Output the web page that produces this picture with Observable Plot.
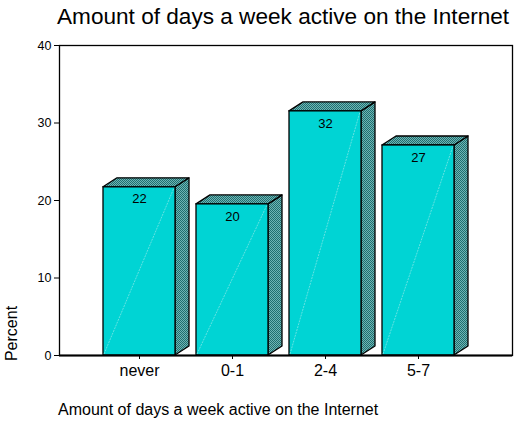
<!DOCTYPE html>
<html>
<head>
<meta charset="utf-8">
<script src="https://cdn.jsdelivr.net/npm/d3@7"></script>
<script src="https://cdn.jsdelivr.net/npm/@observablehq/plot@0.6"></script>
<style>
  body { margin: 0; background: #fff; font-family: Arial, "Liberation Sans", sans-serif; }
  #wrap { position: relative; width: 525px; height: 426px; }
  #title { position: absolute; left: 57px; top: 4px; font-size: 22.6px; color: #000; white-space: nowrap; }
  #caption { position: absolute; left: 58px; top: 401px; font-size: 16px; color: #000; white-space: nowrap; }
  #chart { position: absolute; left: 0; top: 32px; }
  #chart svg { font-family: Arial, "Liberation Sans", sans-serif; }
  #chart [aria-label^="x-axis"] text { font-size: 16px; }
  #chart [aria-label^="y-axis"] text { font-size: 12.5px; }
</style>
</head>
<body>
<div id="wrap">
  <div id="title"></div>
  <div id="chart"></div>
  <div id="caption"></div>
</div>
<script>
const titleText = "Amount of days a week active on the Internet";
const captionText = "Amount of days a week active on the Internet";
const yLabel = "Percent";
const categories = ["never", "0-1", "2-4", "5-7"];
const percents = [21.7, 19.5, 31.5, 27.1];
const yTicks = [0, 10, 20, 30, 40];

const data = categories.map((c, i) => ({category: c, value: percents[i]}));

document.getElementById("title").textContent = titleText;
document.getElementById("caption").textContent = captionText;

const FRONT = "#00d4d4";
const DEPTH_X = 14, DEPTH_Y = -9;

// side and top faces of the 3D bars, positioned through the plot's scales
function depthFaces(index, scales) {
  const x = scales.x, y = scales.y;
  const bw = x.bandwidth();
  const g = d3.create("svg:g");
  for (const d of data) {
    const x0 = x(d.category), x1 = x0 + bw;
    const y0 = y(0), y1 = y(d.value);
    g.append("path")
      .attr("d", `M${x1},${y0}L${x1},${y1}L${x1 + DEPTH_X},${y1 + DEPTH_Y}L${x1 + DEPTH_X},${y0 + DEPTH_Y}Z`)
      .attr("fill", "url(#dots)").attr("stroke", "#000").attr("stroke-width", 1.3).attr("stroke-linejoin", "round");
    g.append("path")
      .attr("d", `M${x0},${y1}L${x0 + DEPTH_X},${y1 + DEPTH_Y}L${x1 + DEPTH_X},${y1 + DEPTH_Y}L${x1},${y1}Z`)
      .attr("fill", "url(#dots)").attr("stroke", "#000").attr("stroke-width", 1.3).attr("stroke-linejoin", "round");
  }
  return g.node();
}

function sheen(index, scales) {
  const x = scales.x, y = scales.y;
  const bw = x.bandwidth();
  const g = d3.create("svg:g");
  for (const d of data) {
    const x0 = x(d.category), x1 = x0 + bw;
    g.append("line")
      .attr("x1", x0 + 1).attr("y1", y(0) - 1).attr("x2", x1 - 1).attr("y2", y(d.value) + 1)
      .attr("stroke", "#8fe8e8").attr("stroke-width", 0.7).attr("stroke-dasharray", "2,1");
  }
  return g.node();
}

const plot = Plot.plot({
  width: 525,
  height: 353,
  marginLeft: 59,
  marginRight: 13,
  marginTop: 13,
  marginBottom: 30,
  style: {background: "white", color: "black", overflow: "visible"},
  x: {
    domain: categories,
    paddingInner: 0.227,
    paddingOuter: 0.5435,
    align: 0.434,
    label: null,
    tickSize: 4,
    tickPadding: 5
  },
  y: {
    domain: [0, 40],
    ticks: 5,
    tickSize: 5,
    tickPadding: 3,
    label: null
  },
  marks: [
    Plot.frame({stroke: "black", strokeWidth: 1.3}),
    depthFaces,
    Plot.barY(data, {x: "category", y: "value", fill: FRONT, stroke: "black", strokeWidth: 1.3}),
    sheen,
    Plot.text(data, {x: "category", y: "value", text: d => d3.format(".0f")(d.value), dy: 12, fontSize: 13, fill: "black"}),
    Plot.ruleY([0], {stroke: "black", strokeWidth: 2}),
    Plot.text([yLabel], {text: d => d, frameAnchor: "bottom-left", rotate: -90, dx: -43, dy: -22, fontSize: 16, fill: "black", textAnchor: "middle"})
  ]
});

const defs = d3.select(plot).insert("defs", ":first-child");
const pat = defs.append("pattern").attr("id", "dots").attr("patternUnits", "userSpaceOnUse").attr("width", 2).attr("height", 2);
pat.append("rect").attr("width", 2).attr("height", 2).attr("fill", "#6fb4b4");
pat.append("rect").attr("width", 1).attr("height", 1).attr("fill", "#1f6f6f");
pat.append("rect").attr("x", 1).attr("y", 1).attr("width", 1).attr("height", 1).attr("fill", "#1f6f6f");

document.getElementById("chart").appendChild(plot);
</script>
</body>
</html>
